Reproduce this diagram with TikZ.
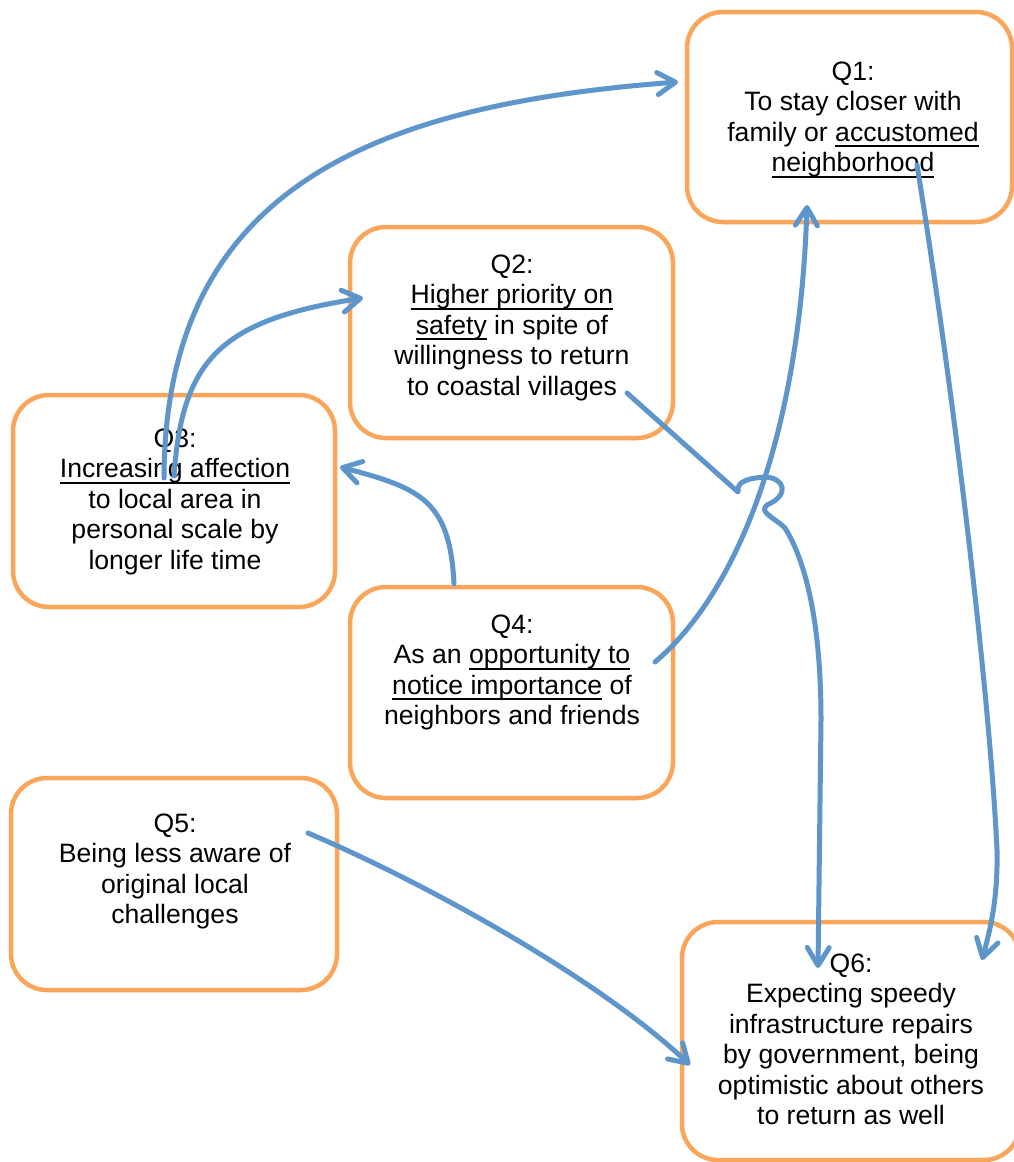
\documentclass[tikz,border=0pt]{standalone}
\usepackage{fontspec}
\setmainfont{Liberation Sans}
\usetikzlibrary{arrows.meta}
\definecolor{boxorange}{RGB}{249,166,90}
\definecolor{linkblue}{RGB}{94,150,203}
% underline at a fixed depth below the baseline
\newcommand\ulw[1]{\setbox0\hbox{#1}\rlap{\rule[-6pt]{\wd0}{1.8pt}}\box0\relax}
% fixed first-line height so the north anchor sits 20pt above the first baseline
\newcommand\fst{\rule{0pt}{20pt}}
\begin{document}
\begin{tikzpicture}[x=1pt,y=-1pt,
  qbox/.style={draw=boxorange, line width=4.5pt, rounded corners=36pt, inner sep=0pt, outer sep=0pt},
  qtext/.style={font=\fontsize{26.6pt}{30.5pt}\selectfont, align=center, inner sep=0pt, anchor=north},
  link/.style={draw=linkblue, line width=5pt, line cap=round, line join=round,
    -{Straight Barb[length=18pt,width=22pt,round]}}]
\fill[white] (0,0) rectangle (1013,1162);
\useasboundingbox (0,0) rectangle (1013,1162);

% boxes
\node[qbox, minimum width=325pt, minimum height=210pt] (q1) at (849.5,117) {};
\node[qbox, minimum width=323pt, minimum height=211pt] (q2) at (511.5,332.5) {};
\node[qbox, minimum width=322pt, minimum height=212pt] (q3) at (174,501) {};
\node[qbox, minimum width=323pt, minimum height=211pt] (q4) at (511.5,692.5) {};
\node[qbox, minimum width=326pt, minimum height=212pt] (q5) at (174,884) {};
\node[qbox, minimum width=338pt, minimum height=238pt] (q6) at (851,1041) {};

% texts
\node[qtext] (q1t) at (853,60) {\fst Q1:\\To stay closer with\\family or \ulw{accustomed}\\\ulw{neighborhood}};
\node[qtext] (q2t) at (512,253) {\fst Q2:\\\ulw{Higher priority on}\\\ulw{safety} in spite of\\willingness to return\\to coastal villages};
\node[qtext] (q3t) at (175,427) {\fst Q3:\\\ulw{Increasing affection}\\to local area in\\personal scale by\\longer life time};
\node[qtext] (q4t) at (512,613) {\fst Q4:\\As an \ulw{opportunity to}\\\ulw{notice importance} of\\neighbors and friends};
\node[qtext] (q5t) at (175,812) {\fst Q5:\\Being less aware of\\original local\\challenges};
\node[qtext] (q6t) at (851,952) {\fst Q6:\\Expecting speedy\\infrastructure repairs\\by government, being\\optimistic about others\\to return as well};

% connector ends
\coordinate (q3a) at (164,478);
\coordinate (q3b) at (174,476);
\coordinate (q3in) at (340,467);
\coordinate (q1in) at (678,82);
\coordinate (q2in) at (363,298);
\coordinate (q4a) at (454,584);
\coordinate (q4b) at (655,662);
\coordinate (q1bot) at (807,205);
\coordinate (q2a) at (627,393);
\coordinate (q6top) at (818,968);
\coordinate (q1a) at (917,165);
\coordinate (q6right) at (982,960);
\coordinate (q5a) at (308,833);
\coordinate (q6left) at (690,1065);

% connectors
\draw[link] (q3a) .. controls (165,190) and (370,105) .. (q1in);
\draw[link] (q3b) .. controls (182,360) and (220,320) .. (q2in);
\draw[link] (q4a) .. controls (450,500) and (420,488) .. (q3in);
\draw[link] (q4b) .. controls (740,590) and (800,430) .. (q1bot);
\draw[link] (q2a) -- (738,492) .. controls (736,480) and (752,478) .. (765,477)
  .. controls (785,478) and (790,495) .. (767,505)
  .. controls (758,512) and (775,518) .. (785,528)
  .. controls (805,560) and (821,620) .. (821,720) -- (q6top);
\draw[link] (q1a) .. controls (955,400) and (990,700) .. (997,850)
  .. controls (998,900) and (990,930) .. (q6right);
\draw[link] (q5a) .. controls (430,885) and (600,980) .. (q6left);
\end{tikzpicture}
\end{document}
